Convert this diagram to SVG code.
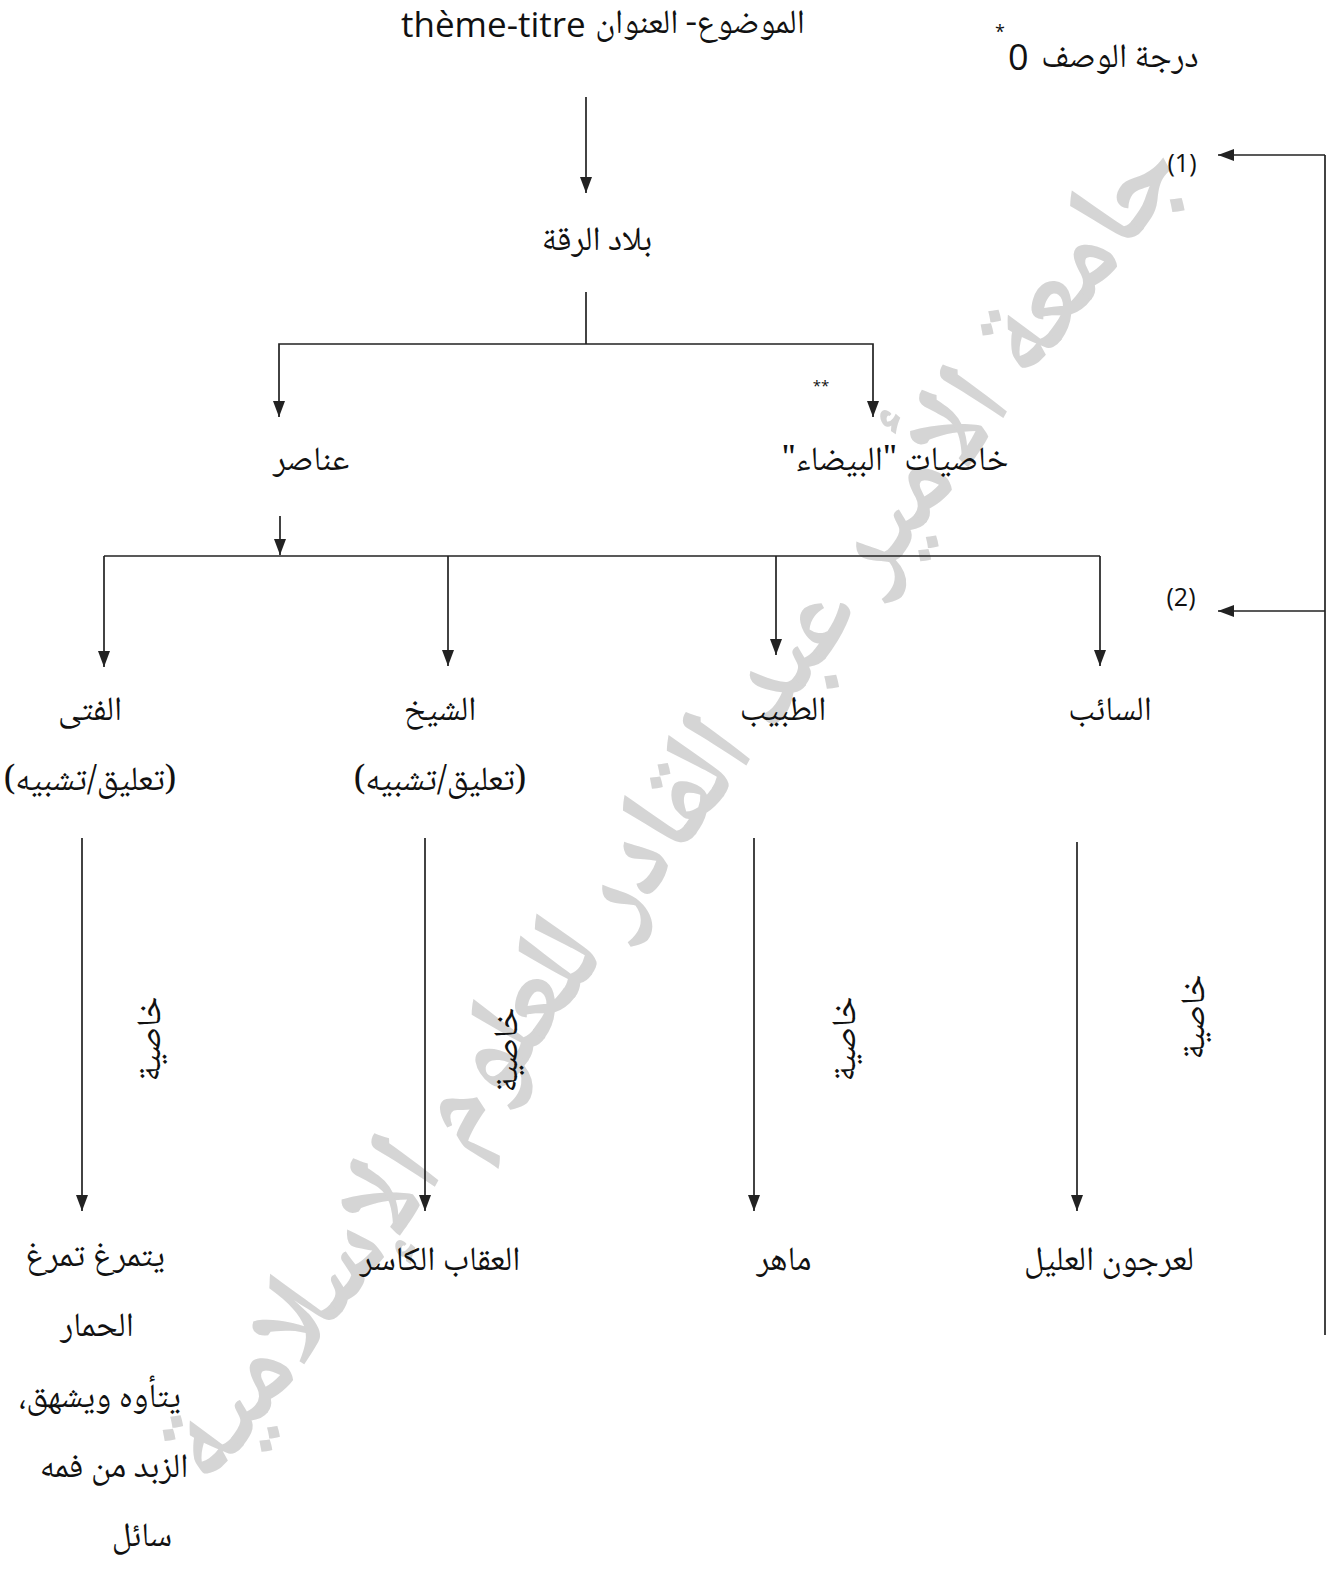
<svg xmlns="http://www.w3.org/2000/svg" width="1337" height="1571" viewBox="0 0 1337 1571">
<style>
.ar{font-family:"Noto Naskh Arabic","DejaVu Sans",sans-serif;font-size:34px;fill:#111;direction:rtl;unicode-bidi:embed;}
.lat{font-family:"Open Sans","Liberation Sans",sans-serif;fill:#111;}
.ln{stroke:#222;stroke-width:1.7;fill:none;}
.ar-end{marker-end:url(#ah);}
</style>
<defs>
<marker id="ah" viewBox="0 0 16 12" refX="16" refY="6" markerWidth="16" markerHeight="12" markerUnits="userSpaceOnUse" orient="auto">
<path d="M0,0 L16,6 L0,12 z" fill="#222"/>
</marker>
</defs>
<rect width="1337" height="1571" fill="#fff"/>
<g id="watermark">
<text x="0" y="0" transform="translate(700,830) rotate(-53.5)" text-anchor="middle" font-family="'Noto Naskh Arabic','DejaVu Sans',sans-serif" font-weight="bold" font-size="120" fill="#cbcbcb" opacity="0.8" direction="rtl" textLength="1640" lengthAdjust="spacingAndGlyphs">جامعة الأمير عبد القادر للعلوم الإسلامية</text>
</g>
<g id="connectors">
<line class="ln ar-end" x1="586" y1="97" x2="586" y2="193"/>
<polyline class="ln" points="586,292 586,344"/>
<polyline class="ln ar-end" points="586,344 279,344 279,417"/>
<polyline class="ln ar-end" points="586,344 873,344 873,417"/>
<line class="ln ar-end" x1="280" y1="516" x2="280" y2="555"/>
<line class="ln" x1="104" y1="556" x2="1100" y2="556"/>
<line class="ln ar-end" x1="104" y1="556" x2="104" y2="667"/>
<line class="ln ar-end" x1="448" y1="556" x2="448" y2="666"/>
<line class="ln ar-end" x1="776" y1="556" x2="776" y2="655"/>
<line class="ln ar-end" x1="1100" y1="556" x2="1100" y2="666"/>
<line class="ln ar-end" x1="82" y1="838" x2="82" y2="1211"/>
<line class="ln ar-end" x1="425" y1="838" x2="425" y2="1211"/>
<line class="ln ar-end" x1="754" y1="838" x2="754" y2="1211"/>
<line class="ln ar-end" x1="1077" y1="842" x2="1077" y2="1211"/>
<polyline class="ln" points="1325,1335 1325,155"/>
<line class="ln ar-end" x1="1325" y1="155" x2="1218" y2="155"/>
<line class="ln ar-end" x1="1325" y1="611" x2="1218" y2="611"/>
</g>
<g id="title">
<text class="lat" x="401" y="37" font-size="35">thème-titre</text>
<text class="ar" x="700" y="33" text-anchor="middle" font-size="30">الموضوع- العنوان</text>
</g>
<g id="degree">
<text class="ar" x="1120" y="67" text-anchor="middle" font-size="42">درجة الوصف</text>
<text class="lat" x="1008" y="70" font-size="36">0</text>
<text class="lat" x="995" y="38" font-size="18">*</text>
</g>
<g id="level1"><text class="lat" x="1182" y="172" text-anchor="middle" font-size="25">(1)</text></g>
<g id="level2"><text class="lat" x="1181" y="606" text-anchor="middle" font-size="25">(2)</text></g>
<g id="n-bilad"><text class="ar" x="597" y="250" text-anchor="middle">بلاد الرقة</text></g>
<g id="n-anasir"><text class="ar" x="311" y="470" text-anchor="middle">عناصر</text></g>
<g id="n-khasiyat">
<text class="ar" x="895" y="470" text-anchor="middle">خاصيات "البيضاء"</text>
<text class="lat" x="821" y="391" text-anchor="middle" font-size="15" fill="#666">**</text>
</g>
<g id="n-fata">
<text class="ar" x="90" y="720" text-anchor="middle">الفتى</text>
<text class="ar" x="90" y="790" text-anchor="middle">(تعليق/تشبيه)</text>
</g>
<g id="n-shaykh">
<text class="ar" x="440" y="720" text-anchor="middle">الشيخ</text>
<text class="ar" x="440" y="790" text-anchor="middle">(تعليق/تشبيه)</text>
</g>
<g id="n-tabib"><text class="ar" x="783" y="720" text-anchor="middle">الطبيب</text></g>
<g id="n-saib"><text class="ar" x="1110" y="720" text-anchor="middle">السائب</text></g>
<g id="labels">
<text class="ar" transform="translate(160,1039) rotate(-90)" text-anchor="middle" font-size="29">خاصية</text>
<text class="ar" transform="translate(517,1050) rotate(-90)" text-anchor="middle" font-size="29">خاصية</text>
<text class="ar" transform="translate(855,1039) rotate(-90)" text-anchor="middle" font-size="29">خاصية</text>
<text class="ar" transform="translate(1204,1017) rotate(-90)" text-anchor="middle" font-size="29">خاصية</text>
</g>
<g id="n-fata-desc">
<text class="ar" x="95" y="1266" text-anchor="middle">يتمرغ تمرغ</text>
<text class="ar" x="97" y="1336" text-anchor="middle">الحمار</text>
<text class="ar" x="100" y="1407" text-anchor="middle">يتأوه ويشهق،</text>
<text class="ar" x="114" y="1477" text-anchor="middle">الزبد من فمه</text>
<text class="ar" x="142" y="1546" text-anchor="middle">سائل</text>
</g>
<g id="n-uqab"><text class="ar" x="440" y="1270" text-anchor="middle">العقاب الكاسر</text></g>
<g id="n-mahir"><text class="ar" x="784" y="1270" text-anchor="middle">ماهر</text></g>
<g id="n-urjun"><text class="ar" x="1109" y="1270" text-anchor="middle">لعرجون العليل</text></g>
</svg>
